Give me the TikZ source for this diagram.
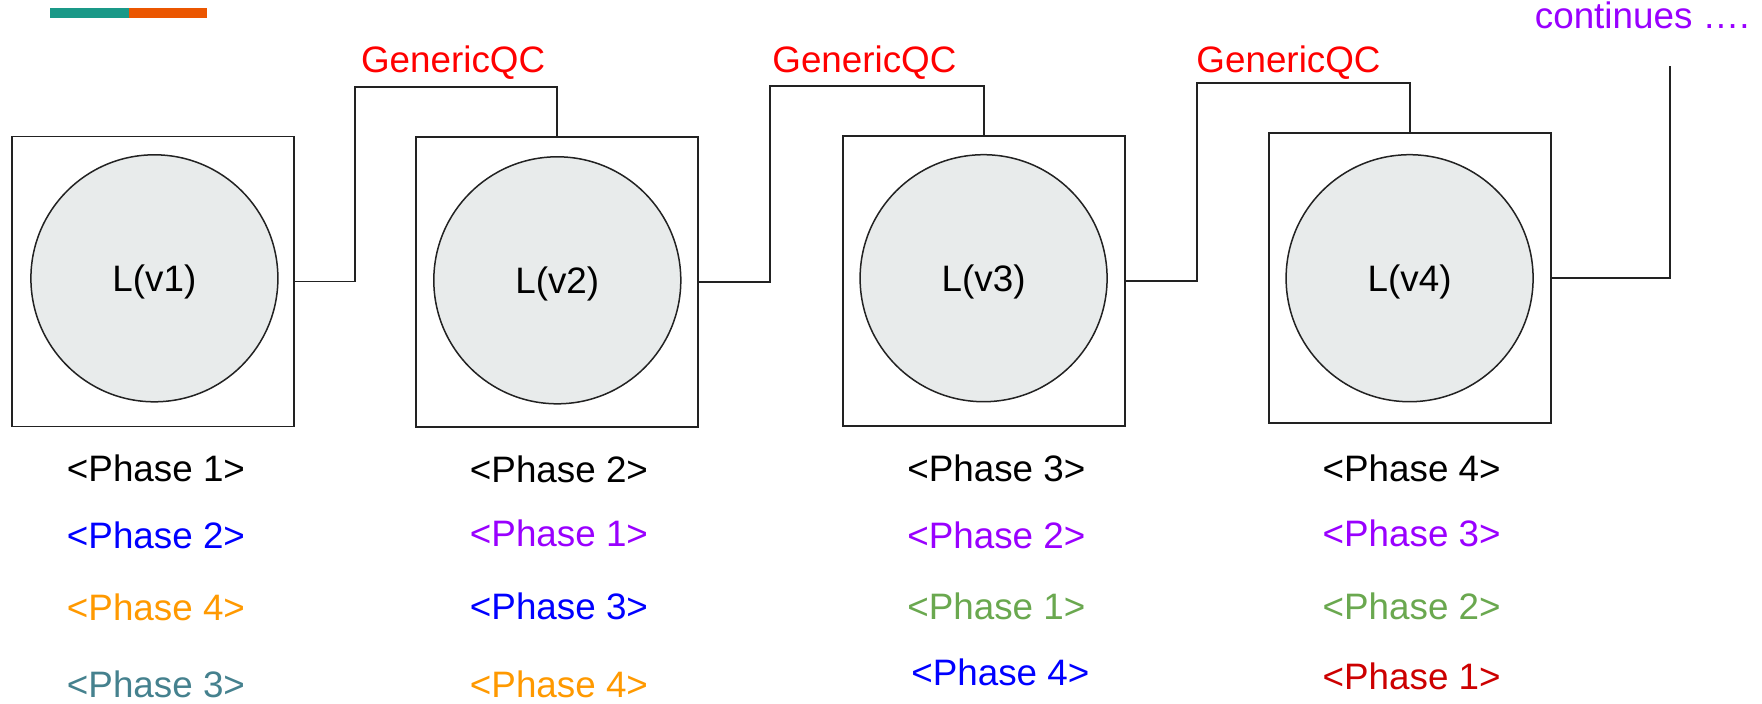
\documentclass[tikz,border=0pt]{standalone}
\usepackage{fontspec}
\setmainfont{Liberation Sans}
\definecolor{linegray}{HTML}{222222}
\definecolor{discfill}{HTML}{E8EBEB}
\definecolor{barteal}{HTML}{1A9988}
\definecolor{barorange}{HTML}{EB5600}
\definecolor{qcred}{HTML}{FF0000}
\definecolor{phpurple}{HTML}{9900FF}
\definecolor{phblue}{HTML}{0000FF}
\definecolor{phorange}{HTML}{FF9900}
\definecolor{phteal}{HTML}{45818E}
\definecolor{phgreen}{HTML}{6AA84F}
\definecolor{phred}{HTML}{CC0000}
\begin{document}
\begin{tikzpicture}[x=0.5pt,y=-0.5pt,
  every node/.style={font=\fontsize{18.4}{22}\selectfont},
  stage/.style={draw=linegray, line width=0.9pt, rectangle,
    minimum width=141pt, minimum height=145pt, inner sep=0pt, outer sep=0pt},
  disc/.style={draw=linegray, line width=0.75pt, fill=discfill, circle,
    minimum size=123.5pt, inner sep=0pt, text height=13.2pt, text depth=0pt},
  wire/.style={draw=linegray, line width=0.9pt},
  phase/.style={anchor=base, inner sep=0pt},
  qc/.style={anchor=base, inner sep=0pt, text=qcred}]
\useasboundingbox (0,0) rectangle (1762,703);

% header bar
\fill[barteal] (50.1,8) rectangle (129,17.7);
\fill[barorange] (129,8) rectangle (207,17.7);

% stage boxes
\node[stage] (b1) at (153.2,281.5) {};
\node[stage] (b2) at (557.3,281.7) {};
\node[stage] (b3) at (983.8,280.7) {};
\node[stage] (b4) at (1409.7,278.3) {};

% discs with their labels
\node[disc] (c1) at (154.4,278.3) {L(v1)};
\node[disc] (c2) at (557.3,280.3) {L(v2)};
\node[disc] (c3) at (983.6,278.2) {L(v3)};
\node[disc] (c4) at (1409.6,278.2) {L(v4)};

% bends of the connectors
\coordinate (k1) at (355.1,87.3);
\coordinate (k2) at (770.3,85.7);
\coordinate (k3) at (1196.8,83.3);
\coordinate (e4) at (1670.3,66);

\draw[wire] (b1.east) -| (k1) -| (b2.north);
\draw[wire] (b2.east) -| (k2) -| (b3.north);
\draw[wire] (b3.east) -| (k3) -| (b4.north);
\draw[wire] (b4.east) -| (e4);

% connector labels
\node[qc] (q1) at (453.1,72.7) {GenericQC};
\node[qc] (q2) at (864.4,72.7) {GenericQC};
\node[qc] (q3) at (1288.5,72.7) {GenericQC};
\node[anchor=base, inner sep=0pt, text=phpurple] (cont) at (1642.3,28.3) {continues ….};

% phase lists
\node[phase] (p11) at (156,481) {<Phase 1>};
\node[phase, text=phblue] (p12) at (156,548.3) {<Phase 2>};
\node[phase, text=phorange] (p13) at (156,620) {<Phase 4>};
\node[phase, text=phteal] (p14) at (156,697.6) {<Phase 3>};

\node[phase] (p21) at (559,482.7) {<Phase 2>};
\node[phase, text=phpurple] (p22) at (559,546.7) {<Phase 1>};
\node[phase, text=phblue] (p23) at (559,619) {<Phase 3>};
\node[phase, text=phorange] (p24) at (559,697.6) {<Phase 4>};

\node[phase] (p31) at (996.3,481) {<Phase 3>};
\node[phase, text=phpurple] (p32) at (996.3,548.3) {<Phase 2>};
\node[phase, text=phgreen] (p33) at (996.3,619) {<Phase 1>};
\node[phase, text=phblue] (p34) at (1000.3,685.7) {<Phase 4>};

\node[phase] (p41) at (1411.7,481) {<Phase 4>};
\node[phase, text=phpurple] (p42) at (1411.7,546.7) {<Phase 3>};
\node[phase, text=phgreen] (p43) at (1411.7,619) {<Phase 2>};
\node[phase, text=phred] (p44) at (1411.7,689.3) {<Phase 1>};
\end{tikzpicture}
\end{document}
